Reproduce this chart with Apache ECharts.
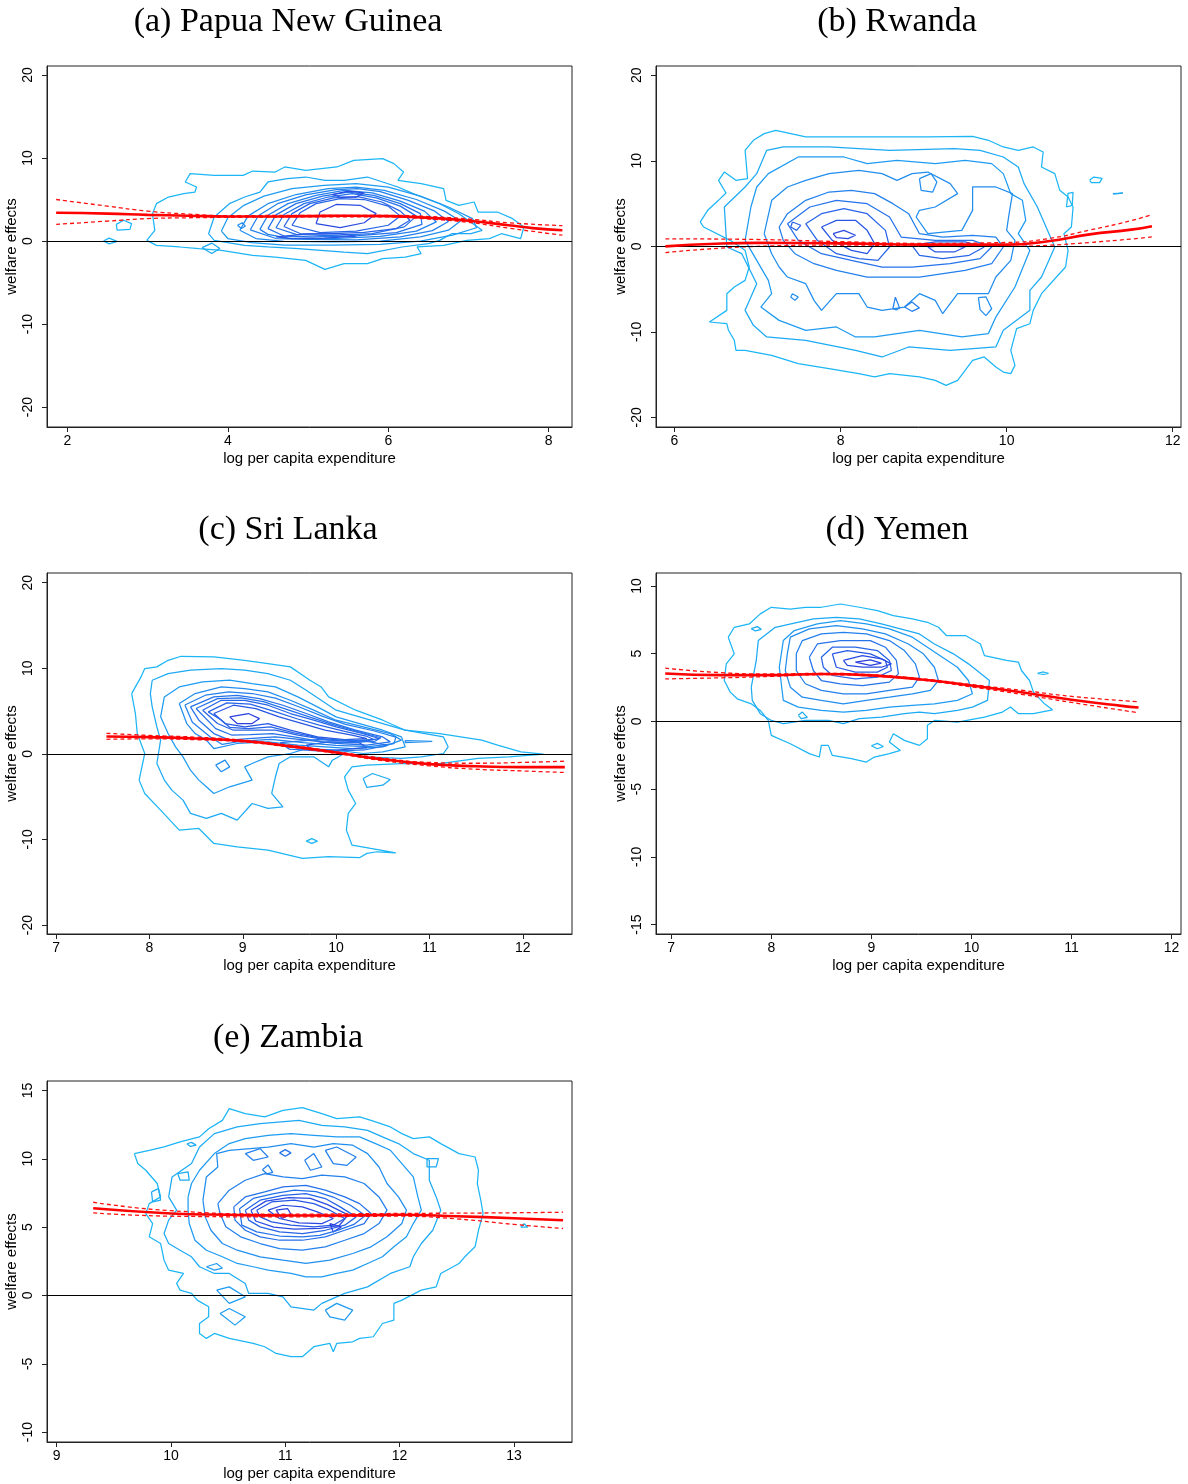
<!DOCTYPE html>
<html><head><meta charset="utf-8">
<script src="https://cdn.jsdelivr.net/npm/echarts@6/dist/echarts.min.js"></script>
<style>html,body{margin:0;padding:0;background:#fff}#c{width:1188px;height:1484px}</style>
</head><body><div id="c"></div>
<script>
// ---------------- DATA ----------------
const titles = ['(a) Papua New Guinea', '(b) Rwanda', '(c) Sri Lanka', '(d) Yemen', '(e) Zambia'];
const xName = 'log per capita expenditure';
const yName = 'welfare effects';

const xTicksA = [2, 4, 6, 8];
const yTicksA = [-20, -10, 0, 10, 20];
const xTicksB = [6, 8, 10, 12];
const yTicksB = [-20, -10, 0, 10, 20];
const xTicksC = [7, 8, 9, 10, 11, 12];
const yTicksC = [-20, -10, 0, 10, 20];
const xTicksD = [7, 8, 9, 10, 11, 12];
const yTicksD = [-15, -10, -5, 0, 5, 10];
const xTicksE = [9, 10, 11, 12, 13];
const yTicksE = [-10, -5, 0, 5, 10, 15];

// contour rings [x, y], with their density level (0 = outermost)
const contoursA = [
  [[2.99,0.08],[3.09,1.29],[3.06,3.29],[3.11,4.50],[3.26,5.30],[3.45,5.70],[3.59,5.90],[3.61,6.51],[3.47,7.11],[3.53,8.11],[3.83,7.91],[4.19,7.91],[4.31,8.43],[4.59,8.31],[4.71,8.92],[4.97,8.51],[5.36,8.92],[5.57,9.72],[5.93,9.92],[6.07,9.32],[6.19,8.31],[6.12,7.31],[6.41,6.91],[6.69,6.31],[6.72,4.90],[6.88,4.30],[7.07,4.70],[7.12,3.49],[7.36,3.49],[7.55,2.69],[7.69,1.69],[7.65,0.28],[7.41,0.88],[7.26,0.28],[6.98,0.08],[6.69,-0.52],[6.36,-0.72],[6.41,-1.53],[6.21,-1.93],[5.93,-2.13],[5.74,-2.73],[5.45,-2.73],[5.21,-3.41],[4.97,-2.33],[4.59,-1.93],[4.31,-1.73],[3.92,-1.12],[3.64,-0.92],[3.40,-0.72],[3.11,-0.52]],
  [[2.61,2.0],[2.70,2.5],[2.80,2.1],[2.78,1.4],[2.62,1.3]],
  [[2.45,0.0],[2.52,0.35],[2.62,-0.05],[2.52,-0.35]],
  [[3.68,-0.8],[3.80,-0.25],[3.90,-0.9],[3.80,-1.5]],
  [[3.76,0.88],[3.83,2.89],[4.02,4.50],[4.21,5.30],[4.40,5.90],[4.50,7.11],[4.74,7.51],[4.97,7.71],[5.21,7.31],[5.45,7.31],[5.74,7.71],[5.93,7.11],[6.12,6.51],[6.31,5.70],[6.64,4.50],[6.88,3.29],[7.17,1.29],[7.03,0.88],[6.79,0.88],[6.64,0.08],[6.50,-0.32],[6.17,-0.72],[5.74,-1.53],[5.45,-1.33],[5.16,-1.12],[4.88,-0.92],[4.50,-0.72],[4.21,-0.52],[3.83,0.08]],
  [[3.92,1.2],[4.0,2.8],[4.2,4.3],[4.45,5.4],[4.8,6.3],[5.2,6.7],[5.6,6.9],[6.0,6.5],[6.4,5.4],[6.75,4.1],[7.05,2.7],[7.1,1.6],[6.8,0.7],[6.4,0.0],[5.9,-0.4],[5.3,-0.5],[4.7,-0.5],[4.3,-0.2],[4.0,0.3]],
  [[4.15,1.3],[4.25,3.0],[4.5,4.5],[4.85,5.6],[5.25,6.3],[5.6,6.5],[5.95,6.1],[6.35,5.0],[6.7,3.6],[6.9,2.4],[6.75,1.3],[6.4,0.5],[5.9,0.0],[5.3,-0.1],[4.7,-0.05],[4.35,0.3]],
  [[4.4,1.4],[4.5,3.1],[4.75,4.5],[5.1,5.5],[5.45,6.1],[5.8,5.8],[6.15,4.8],[6.45,3.6],[6.6,2.3],[6.35,1.2],[5.9,0.55],[5.3,0.3],[4.75,0.35],[4.5,0.8]],
  [[4.6,1.6],[4.7,3.2],[4.95,4.5],[5.25,5.3],[5.55,5.7],[5.85,5.2],[6.15,4.2],[6.35,3.0],[6.2,1.7],[5.8,0.9],[5.25,0.65],[4.85,0.8]],
  [[4.8,1.9],[4.9,3.4],[5.1,4.5],[5.4,5.1],[5.7,5.0],[6.0,4.2],[6.15,3.0],[6.0,1.9],[5.6,1.2],[5.15,1.0]],
  [[5.1,2.1],[5.15,3.5],[5.35,4.4],[5.65,4.3],[5.85,3.3],[5.7,2.2],[5.4,1.6]],
  [[4.12,1.9],[4.18,2.2],[4.22,1.8],[4.17,1.5]],
  [[4.28,1.35],[4.38,3.05],[4.62,4.5],[4.97,5.55],[5.35,6.2],[5.62,6.3],[5.9,5.95],[6.25,4.9],[6.58,3.6],[6.75,2.35],[6.55,1.25],[6.15,0.5],[5.6,0.15],[5.0,0.2],[4.6,0.3]],
  [[4.5,1.5],[4.6,3.15],[4.85,4.5],[5.18,5.4],[5.5,5.9],[5.82,5.5],[6.15,4.5],[6.4,3.3],[6.42,2.0],[6.1,1.0],[5.55,0.6],[5.05,0.5],[4.7,0.6]],
  [[4.7,1.75],[4.8,3.3],[5.02,4.5],[5.32,5.2],[5.62,5.35],[5.92,4.7],[6.15,3.6],[6.27,2.5],[6.1,1.5],[5.7,1.05],[5.2,0.85],[4.9,0.9]],
  [[4.6,0.5],[5.0,0.85],[5.4,0.85],[5.6,0.6],[5.2,0.35],[4.8,0.3]],
  [[5.3,5.6],[5.5,6.0],[5.7,5.8],[5.6,5.3],[5.4,5.3]]
];
const levelsA = [0, 0, 0, 1, 1, 2, 3, 4, 5, 6, 8, 3, 4, 5, 6, 7, 8];

const contoursB = [
  [[6.31,2.85],[6.40,4.21],[6.53,5.38],[6.62,6.24],[6.53,7.72],[6.60,8.69],[6.74,7.72],[6.88,7.91],[6.85,11.23],[6.95,12.40],[7.08,13.18],[7.22,13.57],[7.40,13.18],[7.58,12.79],[7.95,12.79],[8.50,12.79],[9.05,12.79],[9.59,12.87],[9.78,12.40],[9.96,11.62],[10.14,11.23],[10.32,11.62],[10.44,11.03],[10.42,9.28],[10.58,8.50],[10.64,6.55],[10.74,5.77],[10.80,4.60],[10.78,2.26],[10.69,1.48],[10.74,-0.47],[10.71,-2.42],[10.60,-3.59],[10.42,-5.54],[10.32,-7.49],[10.28,-9.05],[10.12,-9.63],[10.05,-12.16],[10.10,-13.92],[10.05,-14.89],[9.96,-14.70],[9.87,-14.11],[9.73,-12.94],[9.59,-13.33],[9.50,-14.50],[9.41,-15.67],[9.27,-16.26],[9.14,-15.67],[8.95,-15.28],[8.59,-14.89],[8.41,-15.28],[8.22,-14.89],[7.86,-14.31],[7.49,-13.72],[7.17,-12.75],[6.85,-12.16],[6.74,-12.16],[6.72,-10.99],[6.65,-9.82],[6.63,-9.05],[6.42,-8.85],[6.63,-7.49],[6.63,-5.54],[6.72,-4.76],[6.85,-3.98],[6.90,-2.42],[6.85,-0.47],[6.67,0.70],[6.35,2.26]],
  [[6.63,-0.08],[6.60,4.60],[6.85,6.94],[6.99,8.50],[7.11,11.23],[7.31,11.62],[7.86,11.62],[8.59,11.23],[9.37,11.42],[9.68,11.23],[9.96,10.45],[10.14,9.28],[10.21,7.33],[10.37,4.60],[10.51,1.48],[10.58,-0.08],[10.42,-3.59],[10.28,-5.15],[10.28,-7.49],[9.96,-9.82],[9.87,-11.77],[9.32,-12.16],[8.82,-11.77],[8.50,-12.94],[8.18,-12.16],[7.58,-10.99],[7.11,-10.60],[6.95,-9.24],[6.85,-7.49],[6.99,-4.37],[6.81,-0.86]],
  [[6.85,0.70],[6.92,4.60],[6.99,6.94],[7.13,8.50],[7.49,10.45],[8.04,10.45],[8.32,9.67],[8.68,10.06],[9.14,9.67],[9.50,10.06],[9.82,9.67],[9.96,8.50],[10.05,6.16],[10.19,5.38],[10.23,3.04],[10.14,1.48],[10.28,-0.47],[10.10,-4.76],[9.87,-8.27],[9.78,-10.21],[9.46,-10.60],[8.95,-9.82],[8.41,-10.60],[8.18,-10.60],[7.95,-9.43],[7.58,-9.82],[7.26,-8.66],[7.04,-7.10],[7.17,-5.54],[7.13,-3.98],[6.99,-1.64]],
  [[7.08,1.48],[7.17,5.38],[7.36,6.94],[7.58,7.72],[7.86,8.50],[8.22,8.89],[8.50,8.50],[8.68,7.72],[8.86,8.50],[9.05,8.69],[9.32,7.33],[9.41,6.16],[9.14,4.60],[8.95,4.21],[8.91,3.43],[9.05,1.48],[9.46,1.87],[9.59,4.21],[9.59,6.94],[9.87,6.94],[10.07,6.16],[10.03,3.82],[10.00,1.87],[10.10,0.70],[10.05,-1.64],[9.87,-3.59],[9.78,-5.54],[9.41,-5.54],[9.23,-7.88],[9.14,-6.32],[8.95,-5.54],[8.77,-7.10],[8.50,-7.49],[8.32,-7.10],[8.22,-5.54],[7.95,-5.54],[7.77,-7.49],[7.68,-6.32],[7.58,-4.37],[7.36,-3.59],[7.26,-2.42],[7.17,-0.86]],
  [[7.26,2.26],[7.36,3.82],[7.58,5.38],[7.86,6.35],[8.13,6.55],[8.41,6.16],[8.63,4.99],[8.82,3.82],[8.95,1.48],[9.23,1.09],[9.59,1.29],[9.87,1.09],[9.96,-0.08],[9.82,-2.03],[9.50,-2.81],[8.95,-3.59],[8.68,-3.59],[8.32,-3.59],[7.95,-2.81],[7.68,-2.03],[7.45,-0.86],[7.31,0.70]],
  [[7.36,2.65],[7.63,4.60],[7.95,5.38],[8.32,4.99],[8.59,3.43],[8.73,1.09],[9.14,0.70],[9.59,0.70],[9.82,-0.08],[9.68,-1.44],[9.32,-2.03],[8.86,-2.42],[8.50,-2.42],[8.13,-1.64],[7.77,-0.86],[7.49,0.70]],
  [[7.58,2.65],[7.77,3.82],[8.04,4.41],[8.32,3.82],[8.54,1.87],[8.59,-0.08],[8.45,-1.64],[8.22,-1.44],[7.95,-0.86],[7.72,0.70]],
  [[8.86,0.12],[9.14,0.51],[9.50,0.51],[9.73,-0.08],[9.55,-1.05],[9.23,-1.44],[8.95,-1.05]],
  [[7.77,2.26],[7.95,3.04],[8.18,3.04],[8.32,1.87],[8.41,0.31],[8.32,-0.86],[8.13,-0.47],[7.90,0.70]],
  [[9.05,-0.08],[9.27,0.12],[9.50,-0.08],[9.37,-0.66],[9.14,-0.66]],
  [[7.91,1.48],[8.04,1.87],[8.18,1.29],[8.09,0.90],[7.95,1.01]],
  [[7.42,2.85],[7.52,2.46],[7.47,1.87],[7.40,2.26]],
  [[8.95,7.91],[9.09,8.50],[9.16,7.52],[9.11,6.35],[8.97,6.55]],
  [[7.42,-5.54],[7.49,-5.93],[7.45,-6.32],[7.40,-5.93]],
  [[8.63,-7.3],[8.66,-5.95],[8.71,-7.2],[8.67,-7.45]],
  [[8.77,-7.1],[8.86,-6.5],[8.95,-7.2],[8.86,-7.6]],
  [[9.66,-6.0],[9.75,-5.9],[9.82,-7.3],[9.75,-8.1],[9.68,-7.4]],
  [[11.0,7.75],[11.05,8.1],[11.15,7.95],[11.12,7.45],[11.02,7.45]],
  [[11.28,6.16],[11.40,6.22],[11.40,6.10],[11.28,6.10]],
  [[10.72,4.6],[10.74,6.2],[10.80,6.3],[10.79,4.8]]
];
const levelsB = [0, 1, 2, 3, 4, 5, 6, 6, 7, 7, 8, 6, 3, 3, 4, 4, 3, 0, 1, 0];

const contoursC = [
  [[7.81,7.04],[7.91,8.99],[7.95,9.96],[8.08,10.16],[8.20,10.93],[8.34,11.40],[8.69,11.32],[9.02,10.93],[9.27,10.54],[9.51,10.16],[9.72,8.60],[9.84,7.82],[9.92,6.65],[10.21,5.10],[10.50,3.93],[10.74,2.76],[11.11,2.37],[11.56,1.60],[11.73,1.01],[11.98,0.23],[12.22,-0.04],[11.85,-0.35],[11.52,-0.54],[11.11,-1.13],[10.70,-1.13],[10.33,-1.32],[10.17,-1.52],[10.09,-2.68],[10.13,-4.24],[10.21,-5.80],[10.13,-6.96],[10.11,-8.91],[10.17,-10.66],[10.37,-11.05],[10.64,-11.56],[10.44,-11.44],[10.33,-11.63],[10.25,-12.14],[9.92,-12.02],[9.64,-12.22],[9.27,-11.25],[8.94,-10.86],[8.69,-10.47],[8.53,-8.72],[8.32,-8.91],[8.12,-6.58],[7.95,-4.63],[7.89,-3.07],[7.95,0.04],[7.87,2.37],[7.85,4.71]],
  [[8.03,8.60],[8.20,9.38],[8.44,9.77],[8.77,9.96],[9.02,9.77],[9.27,9.38],[9.51,8.60],[9.68,7.43],[9.84,6.26],[10.00,5.10],[10.25,4.32],[10.50,3.54],[10.74,2.76],[11.15,1.98],[11.20,0.82],[11.15,0.04],[10.91,-0.35],[10.70,-0.54],[10.29,-0.35],[10.09,0.04],[9.96,-0.74],[9.92,-1.52],[9.76,-0.35],[9.51,-0.35],[9.39,-1.13],[9.35,-2.68],[9.31,-4.63],[9.43,-6.19],[9.27,-6.38],[9.10,-5.80],[8.94,-7.74],[8.77,-6.96],[8.61,-7.55],[8.44,-6.96],[8.36,-5.41],[8.24,-4.24],[8.16,-3.07],[8.08,-1.13],[8.12,1.60],[8.08,3.15],[8.03,5.49],[8.01,7.04]],
  [[8.16,6.65],[8.32,7.82],[8.57,8.40],[8.86,8.60],[9.10,8.21],[9.35,7.82],[9.59,6.65],[9.80,5.49],[10.00,4.32],[10.25,3.54],[10.50,2.76],[10.70,1.98],[10.74,0.82],[10.50,0.23],[10.29,0.04],[10.00,0.43],[9.68,0.62],[9.51,0.04],[9.27,-0.35],[9.10,-1.13],[9.02,-1.52],[9.10,-3.07],[8.86,-3.85],[8.69,-4.63],[8.61,-3.85],[8.53,-3.07],[8.44,-1.91],[8.36,-0.35],[8.28,0.82],[8.20,2.37],[8.12,4.32]],
  [[8.32,5.88],[8.49,7.04],[8.77,7.82],[9.02,7.63],[9.27,7.24],[9.51,6.26],[9.76,5.10],[10.00,3.93],[10.29,3.15],[10.58,2.37],[10.70,1.60],[10.50,0.82],[10.17,0.62],[9.88,0.82],[9.59,1.01],[9.27,1.40],[8.94,1.21],[8.69,0.62],[8.61,1.60],[8.49,2.37],[8.40,3.54]],
  [[8.44,5.49],[8.69,6.65],[8.94,6.84],[9.18,6.46],[9.43,5.68],[9.68,4.71],[9.92,3.74],[10.21,2.76],[10.50,1.98],[10.58,1.40],[10.33,1.01],[10.00,1.21],[9.68,1.60],[9.35,1.98],[9.06,1.79],[8.86,1.60],[8.69,2.37],[8.53,3.93]],
  [[8.57,5.10],[8.77,6.26],[9.02,6.26],[9.27,5.68],[9.51,4.71],[9.76,3.93],[10.00,3.15],[10.29,2.37],[10.46,1.79],[10.25,1.40],[9.92,1.60],[9.59,2.18],[9.35,2.76],[9.10,2.76],[8.90,2.76],[8.73,3.54]],
  [[8.69,4.71],[8.90,5.68],[9.14,5.29],[9.39,4.32],[9.64,3.54],[9.88,2.76],[10.17,2.18],[10.33,1.79],[10.09,1.67],[9.80,1.98],[9.51,2.76],[9.27,3.54],[9.02,3.15],[8.81,3.54]],
  [[8.86,4.32],[9.06,4.71],[9.18,4.12],[9.10,3.54],[8.94,3.54]],
  [[9.68,1.01],[9.92,1.40],[10.25,1.28],[10.33,0.74],[10.00,0.43],[9.76,0.43]],
  [[10.74,1.55],[11.03,1.45],[11.03,1.35],[10.74,1.30]],
  [[8.71,-1.32],[8.81,-0.74],[8.86,-1.52],[8.77,-2.10]],
  [[10.29,-2.88],[10.39,-2.30],[10.58,-3.00],[10.50,-3.66],[10.33,-3.93]],
  [[9.68,-10.2],[9.74,-9.9],[9.80,-10.2],[9.74,-10.47]],
  [[8.38,5.7],[8.6,6.85],[8.85,7.25],[9.1,7.05],[9.35,6.5],[9.6,5.5],[9.85,4.4],[10.1,3.45],[10.4,2.7],[10.64,1.95],[10.62,1.2],[10.35,0.85],[10.0,1.0],[9.65,1.3],[9.3,1.7],[9.0,1.5],[8.78,1.1],[8.65,2.0],[8.46,3.7]],
  [[8.5,5.3],[8.73,6.45],[8.98,6.55],[9.22,6.1],[9.47,5.2],[9.72,4.3],[9.96,3.45],[10.25,2.55],[10.48,1.88],[10.42,1.5],[10.15,1.3],[9.85,1.4],[9.6,1.9],[9.32,2.35],[9.08,2.25],[8.88,2.2],[8.71,2.95]],
  [[8.63,4.9],[8.83,5.95],[9.08,5.8],[9.33,5.0],[9.58,4.1],[9.82,3.35],[10.08,2.65],[10.32,2.08],[10.4,1.7],[10.17,1.52],[9.86,1.78],[9.55,2.45],[9.3,3.15],[9.06,2.95],[8.86,3.1],[8.77,3.95]],
  [[9.4,1.3],[9.8,1.65],[10.3,1.55],[10.55,1.0],[10.3,0.45],[9.9,0.3],[9.5,0.55]]
];
const levelsC = [0, 1, 2, 3, 5, 6, 7, 9, 7, 3, 3, 1, 0, 4, 5, 6, 5];

const contoursD = [
  [[7.57,6.22],[7.63,6.95],[7.78,7.20],[7.89,7.94],[8.00,8.43],[8.19,8.30],[8.34,8.43],[8.50,8.43],[8.69,8.67],[8.88,8.43],[9.06,8.18],[9.22,7.81],[9.41,7.57],[9.56,7.32],[9.67,6.95],[9.75,6.34],[9.94,6.34],[10.09,5.72],[10.13,4.86],[10.35,4.50],[10.47,4.37],[10.50,3.76],[10.58,3.02],[10.62,2.16],[10.73,1.30],[10.81,0.86],[10.62,0.57],[10.47,0.57],[10.39,1.06],[10.31,0.69],[10.13,0.32],[9.86,-0.05],[9.63,0.07],[9.56,-0.29],[9.56,-1.28],[9.48,-1.77],[9.33,-1.40],[9.22,-0.91],[9.18,-1.52],[9.29,-2.14],[9.18,-2.38],[9.03,-2.63],[8.95,-3.00],[8.80,-2.75],[8.61,-2.51],[8.57,-1.77],[8.50,-1.77],[8.48,-2.63],[8.38,-2.38],[8.19,-1.65],[8.00,-1.03],[7.97,0.07],[7.89,0.81],[7.80,1.30],[7.66,1.67],[7.59,2.16],[7.53,3.02],[7.55,4.25],[7.63,4.99]],
  [[7.80,2.53],[7.85,4.50],[7.87,5.97],[8.04,6.95],[8.42,7.57],[8.65,7.69],[8.88,7.57],[9.10,7.20],[9.29,6.83],[9.48,6.46],[9.63,5.72],[9.82,4.99],[9.97,4.25],[10.18,3.02],[10.16,1.55],[10.01,1.06],[9.86,0.81],[9.63,0.57],[9.48,0.69],[9.33,0.57],[9.10,0.32],[8.88,0.20],[8.72,-0.17],[8.57,0.07],[8.34,0.07],[8.12,-0.17],[8.00,0.07],[7.89,0.57],[7.81,1.55]],
  [[8.08,4.00],[8.12,5.97],[8.23,6.71],[8.46,7.20],[8.69,7.44],[8.95,7.20],[9.18,6.83],[9.41,6.22],[9.56,5.48],[9.71,4.74],[9.86,4.00],[9.97,3.02],[10.01,2.04],[9.86,1.55],[9.63,1.30],[9.41,1.18],[9.18,1.06],[8.95,0.81],[8.72,0.69],[8.50,0.81],[8.27,1.06],[8.12,1.55],[8.10,2.78]],
  [[8.16,4.99],[8.19,6.22],[8.38,6.83],[8.65,7.08],[8.91,6.83],[9.14,6.46],[9.37,5.72],[9.52,4.99],[9.63,4.00],[9.67,3.02],[9.59,2.29],[9.41,2.04],[9.18,1.79],[8.95,1.55],[8.72,1.30],[8.50,1.55],[8.31,1.79],[8.19,2.53],[8.14,3.76]],
  [[8.25,4.99],[8.31,5.97],[8.50,6.46],[8.72,6.58],[8.95,6.46],[9.18,5.97],[9.33,5.23],[9.44,4.25],[9.48,3.27],[9.41,2.53],[9.18,2.29],[8.95,2.04],[8.72,2.04],[8.50,2.29],[8.34,2.78],[8.25,3.76]],
  [[8.38,4.74],[8.46,5.72],[8.69,5.97],[8.99,5.97],[9.14,5.48],[9.25,4.50],[9.27,3.51],[9.18,2.90],[8.91,2.65],[8.69,2.78],[8.50,3.02],[8.42,3.76]],
  [[8.50,4.74],[8.61,5.48],[8.84,5.48],[9.06,5.23],[9.18,4.50],[9.20,3.76],[9.06,3.27],[8.84,3.14],[8.61,3.39],[8.52,4.00]],
  [[8.61,4.99],[8.76,5.23],[8.99,4.99],[9.14,4.50],[9.16,4.00],[9.06,3.64],[8.84,3.64],[8.65,4.00]],
  [[8.72,4.50],[8.91,4.86],[9.10,4.62],[9.20,4.25],[9.10,4.00],[8.91,4.00],[8.76,4.13]],
  [[8.84,4.37],[8.99,4.54],[9.10,4.30],[8.99,4.13]],
  [[7.80,6.85],[7.86,7.0],[7.90,6.8],[7.84,6.68]],
  [[8.27,0.45],[8.31,0.69],[8.36,0.30],[8.30,0.20]],
  [[9.00,-1.80],[9.06,-1.62],[9.12,-1.85],[9.06,-2.02]],
  [[10.66,3.55],[10.72,3.65],[10.77,3.55],[10.72,3.48]]
];
const levelsD = [0, 1, 2, 3, 4, 5, 6, 7, 8, 9, 1, 1, 0, 0];

const contoursE = [
  [[9.68,10.38],[9.81,10.62],[9.94,10.87],[10.08,11.23],[10.25,11.60],[10.33,12.20],[10.45,12.81],[10.51,13.67],[10.65,13.30],[10.82,13.06],[10.98,13.54],[11.15,13.74],[11.32,13.30],[11.45,12.94],[11.65,13.06],[11.75,12.81],[11.92,12.33],[12.02,11.84],[12.12,11.47],[12.26,11.60],[12.36,11.11],[12.52,10.38],[12.66,10.13],[12.69,9.16],[12.68,8.19],[12.71,6.97],[12.73,5.99],[12.69,4.77],[12.66,3.56],[12.57,2.83],[12.52,2.34],[12.36,1.61],[12.32,0.63],[12.19,0.39],[12.02,-0.34],[11.95,-0.58],[11.95,-1.80],[11.85,-2.05],[11.77,-3.02],[11.65,-3.14],[11.59,-3.39],[11.45,-3.51],[11.42,-4.12],[11.39,-3.51],[11.25,-3.75],[11.15,-4.48],[11.05,-4.48],[10.92,-4.24],[10.82,-3.75],[10.72,-3.51],[10.51,-3.14],[10.38,-2.78],[10.31,-3.14],[10.25,-2.78],[10.25,-2.05],[10.33,-1.56],[10.33,-0.83],[10.23,-0.34],[10.18,0.15],[10.08,0.39],[10.05,0.88],[10.11,1.61],[9.98,1.85],[9.94,2.58],[9.91,3.80],[9.81,4.29],[9.84,5.26],[9.78,5.99],[9.81,6.72],[9.91,7.21],[9.88,8.19],[9.78,9.16],[9.71,9.65]],
  [[9.98,7.21],[10.01,8.67],[10.18,9.65],[10.25,10.86],[10.38,11.84],[10.58,12.33],[10.78,12.57],[11.12,12.81],[11.32,12.45],[11.52,12.33],[11.72,12.08],[11.85,11.60],[11.99,11.11],[12.12,10.38],[12.26,9.89],[12.26,8.43],[12.32,7.21],[12.36,6.24],[12.29,4.77],[12.19,3.80],[12.12,2.83],[12.09,2.10],[11.92,1.61],[11.72,0.63],[11.52,0.15],[11.32,-0.58],[11.25,-1.07],[11.05,-0.83],[10.98,-0.10],[10.85,0.15],[10.68,0.15],[10.65,0.88],[10.51,1.61],[10.38,1.61],[10.25,2.10],[10.18,2.83],[10.08,3.31],[9.98,3.80],[9.94,4.53],[9.98,5.51],[10.05,6.24]],
  [[10.15,7.21],[10.18,8.19],[10.25,9.16],[10.38,10.38],[10.51,11.11],[10.65,11.47],[10.85,11.72],[11.05,11.84],[11.25,11.72],[11.45,11.60],[11.65,11.60],[11.79,11.11],[11.92,10.62],[12.02,9.65],[12.12,8.67],[12.16,7.21],[12.19,6.24],[12.12,5.26],[12.06,4.29],[11.95,3.56],[11.85,2.83],[11.72,2.34],[11.59,1.85],[11.45,1.61],[11.32,1.36],[11.18,1.36],[11.05,1.61],[10.85,1.85],[10.72,2.10],[10.58,2.34],[10.45,2.83],[10.31,3.31],[10.21,4.04],[10.16,5.26],[10.15,6.24]],
  [[10.28,6.97],[10.31,8.67],[10.41,9.40],[10.40,10.38],[10.51,10.62],[10.85,10.86],[11.05,11.11],[11.25,10.86],[11.42,11.11],[11.59,10.99],[11.72,10.38],[11.82,9.40],[11.89,8.19],[11.99,7.21],[12.06,6.24],[12.02,5.26],[11.89,4.29],[11.75,3.56],[11.59,3.07],[11.39,2.58],[11.18,2.34],[10.98,2.58],[10.78,2.83],[10.58,3.31],[10.45,3.80],[10.35,4.77],[10.30,5.75]],
  [[10.41,6.72],[10.51,7.70],[10.65,8.43],[10.82,8.92],[10.98,8.67],[11.15,8.55],[11.32,8.80],[11.52,8.67],[11.69,8.19],[11.82,7.21],[11.89,6.24],[11.82,5.26],[11.69,4.53],[11.52,4.04],[11.35,3.56],[11.15,3.31],[10.95,3.43],[10.78,3.80],[10.61,4.29],[10.48,5.02],[10.43,5.99]],
  [[10.55,6.48],[10.65,7.21],[10.82,7.58],[10.98,7.94],[11.18,8.06],[11.35,7.70],[11.52,7.21],[11.65,6.72],[11.75,5.99],[11.69,5.26],[11.52,4.77],[11.35,4.29],[11.15,4.04],[10.95,4.04],[10.78,4.29],[10.65,4.77],[10.56,5.51]],
  [[10.65,6.24],[10.78,6.97],[10.98,7.33],[11.18,7.45],[11.35,7.09],[11.48,6.48],[11.62,5.75],[11.52,5.14],[11.35,4.77],[11.15,4.53],[10.95,4.65],[10.78,5.02],[10.68,5.51]],
  [[10.75,6.24],[10.88,6.84],[11.08,6.97],[11.25,6.72],[11.39,6.24],[11.52,5.63],[11.42,5.14],[11.25,5.02],[11.05,5.14],[10.88,5.38],[10.78,5.75]],
  [[10.85,6.24],[10.98,6.60],[11.15,6.48],[11.28,6.11],[11.42,5.63],[11.32,5.26],[11.12,5.31],[10.95,5.63]],
  [[10.92,6.24],[11.02,6.36],[11.05,5.94],[10.97,5.63]],
  [[11.39,5.26],[11.49,5.02],[11.42,4.65]],
  [[10.65,10.38],[10.78,10.74],[10.85,10.13],[10.72,9.89]],
  [[10.95,10.43],[11.00,10.67],[11.05,10.43],[11.00,10.18]],
  [[11.17,9.89],[11.25,10.38],[11.32,9.40],[11.22,9.16]],
  [[11.35,10.62],[11.45,10.86],[11.62,10.13],[11.54,9.52],[11.42,9.65]],
  [[10.80,9.2],[10.85,9.55],[10.89,9.0],[10.84,8.9]],
  [[12.24,10.01],[12.34,10.01],[12.32,9.40],[12.24,9.40]],
  [[10.06,8.92],[10.15,9.04],[10.16,8.43],[10.08,8.43]],
  [[9.83,7.58],[9.89,7.82],[9.91,6.97],[9.84,6.85]],
  [[10.14,11.1],[10.18,11.2],[10.22,11.0],[10.17,10.9]],
  [[10.31,2.1],[10.40,2.34],[10.45,2.0],[10.38,1.85]],
  [[10.43,-1.32],[10.51,-0.95],[10.65,-1.56],[10.56,-2.17]],
  [[10.40,0.39],[10.51,0.63],[10.65,-0.10],[10.51,-0.58]],
  [[11.35,-1.07],[11.45,-0.58],[11.59,-1.07],[11.52,-1.80],[11.39,-1.56]],
  [[13.06,5.0],[13.09,5.25],[13.12,5.0]],
  [[10.6,6.35],[10.72,7.1],[10.9,7.45],[11.08,7.7],[11.27,7.6],[11.42,7.2],[11.57,6.6],[11.7,5.85],[11.6,5.2],[11.45,4.75],[11.3,4.4],[11.15,4.28],[10.95,4.35],[10.75,4.65],[10.62,5.15]],
  [[10.7,6.24],[10.83,6.9],[11.03,7.15],[11.22,7.1],[11.37,6.65],[11.55,5.9],[11.47,5.1],[11.3,4.9],[11.08,4.85],[10.9,5.0],[10.74,5.45]]
];
const levelsE = [0, 1, 2, 3, 4, 5, 6, 7, 8, 9, 9, 4, 5, 4, 4, 4, 1, 1, 1, 1, 2, 2, 2, 2, 0, 5, 8];

// smoothed fit (solid) and confidence band (dashed)
const fitA = [[1.86,3.4],[2.5,3.3],[3,3.15],[3.5,3.05],[4,2.95],[4.5,2.95],[5,3.0],[5.5,3.05],[6,3.0],[6.5,2.8],[7,2.45],[7.5,1.9],[7.8,1.55],[8.17,1.3]];
const upA = [[1.86,5.0],[2.5,4.2],[3,3.6],[3.5,3.25],[4,3.05],[5,3.1],[6,3.1],[6.5,2.95],[7,2.65],[7.5,2.2],[8.17,1.85]];
const loA = [[1.86,2.0],[2.5,2.4],[3,2.7],[3.5,2.8],[4,2.85],[5,2.9],[6,2.9],[6.5,2.65],[7,2.25],[7.5,1.55],[8.17,0.7]];
const fitB = [[5.89,0.0],[6.5,0.3],[7,0.4],[8,0.35],[9,0.2],[10,0.2],[10.5,0.6],[11,1.4],[11.5,1.95],[11.75,2.35]];
const upB = [[5.89,0.88],[7,0.8],[8,0.55],[9,0.35],[10,0.45],[10.5,0.9],[11,1.9],[11.5,3.0],[11.75,3.7]];
const loB = [[5.89,-0.74],[7,0.0],[8,0.15],[9,0.05],[10,0.0],[10.5,0.12],[11,0.45],[11.5,0.85],[11.75,1.1]];
const fitC = [[7.54,2.02],[8,1.95],[8.5,1.8],[9,1.5],[9.5,0.9],[10,0.15],[10.5,-0.65],[11,-1.2],[11.5,-1.45],[12,-1.55],[12.45,-1.55]];
const upC = [[7.54,2.4],[8,2.15],[8.5,1.95],[9,1.6],[9.5,1.0],[10,0.25],[10.5,-0.5],[11,-1.0],[11.5,-1.1],[12,-1.0],[12.45,-0.86]];
const loC = [[7.54,1.7],[8,1.75],[8.5,1.65],[9,1.4],[9.5,0.8],[10,0.05],[10.5,-0.8],[11,-1.4],[11.5,-1.8],[12,-2.0],[12.45,-2.18]];
const fitD = [[6.94,3.54],[7.5,3.42],[8,3.42],[8.5,3.5],[9,3.4],[9.5,3.1],[10,2.65],[10.5,2.15],[11,1.6],[11.5,1.15],[11.67,1.03]];
const upD = [[6.94,3.93],[7.5,3.6],[8,3.5],[8.5,3.55],[9,3.45],[9.5,3.15],[10,2.72],[10.5,2.3],[11,1.85],[11.67,1.45]];
const loD = [[6.94,3.14],[7.5,3.22],[8,3.32],[8.5,3.45],[9,3.35],[9.5,3.05],[10,2.55],[10.5,2.0],[11,1.4],[11.67,0.64]];
const fitE = [[9.32,6.38],[10,6.0],[10.5,5.9],[11,5.85],[11.5,5.85],[12,5.9],[12.5,5.8],[13,5.65],[13.43,5.5]];
const upE = [[9.32,6.82],[10,6.2],[11,5.95],[12,6.0],[13,6.05],[13.43,6.09]];
const loE = [[9.32,6.04],[10,5.8],[11,5.75],[12,5.8],[12.5,5.6],[13,5.2],[13.43,4.9]];

// ---------------- LAYOUT / STYLE ----------------
const palette = ['#1CB6F6','#1DAAF4','#1F9CF2','#218EEF','#2380EC','#2572EA','#2764E7','#2857E4','#2A4AE1','#2C3EDE'];
const sans = '"Liberation Sans", Arial, Helvetica, sans-serif';
const serif = '"Liberation Serif", "Times New Roman", serif';

const panels = [
  {grid:{left:47,top:66,width:525,height:361}, xr:[1.746,8.29], yr:[-22.4,21.08], xt:xTicksA, yt:yTicksA, rings:contoursA, lv:levelsA, fit:fitA, up:upA, lo:loA, tx:288, ty:22},
  {grid:{left:656,top:66,width:525,height:361}, xr:[5.777,12.10], yr:[-21.13,21.09], xt:xTicksB, yt:yTicksB, rings:contoursB, lv:levelsB, fit:fitB, up:upB, lo:loB, tx:897, ty:22},
  {grid:{left:47,top:573,width:525,height:361}, xr:[6.903,12.527], yr:[-21.05,21.13], xt:xTicksC, yt:yTicksC, rings:contoursC, lv:levelsC, fit:fitC, up:upC, lo:loC, tx:288, ty:530},
  {grid:{left:656,top:573,width:525,height:361}, xr:[6.848,12.094], yr:[-15.70,10.96], xt:xTicksD, yt:yTicksD, rings:contoursD, lv:levelsD, fit:fitD, up:upD, lo:loD, tx:897, ty:530},
  {grid:{left:47,top:1081,width:525,height:361}, xr:[8.916,13.508], yr:[-10.72,15.69], xt:xTicksE, yt:yTicksE, rings:contoursE, lv:levelsE, fit:fitE, up:upE, lo:loE, tx:288, ty:1038}
];

const grids = [], xAxes = [], yAxes = [], series = [], graphics = [];
panels.forEach((p, i) => {
  grids.push(Object.assign({show:true, borderColor:'#222', borderWidth:1, backgroundColor:'#fff'}, p.grid));
  xAxes.push({
    gridIndex:i, type:'value', min:p.xr[0], max:p.xr[1],
    splitLine:{show:false},
    axisLine:{show:true, onZero:false, lineStyle:{color:'#222', width:1}},
    axisTick:{show:true, length:5, customValues:p.xt, lineStyle:{color:'#222'}},
    axisLabel:{customValues:p.xt, fontSize:14, color:'#000', margin:7, fontFamily:sans},
    name:xName, nameLocation:'middle', nameGap:24,
    nameTextStyle:{fontSize:15, color:'#000', fontFamily:sans}
  });
  yAxes.push({
    gridIndex:i, type:'value', min:p.yr[0], max:p.yr[1],
    splitLine:{show:false},
    axisLine:{show:true, onZero:false, lineStyle:{color:'#222', width:1}},
    axisTick:{show:true, length:5, customValues:p.yt, lineStyle:{color:'#222'}},
    axisLabel:{customValues:p.yt, fontSize:14, color:'#000', margin:12, rotate:90, fontFamily:sans},
    name:yName, nameLocation:'middle', nameGap:28,
    nameTextStyle:{fontSize:15, color:'#000', fontFamily:sans}
  });
  p.rings.forEach((ring, j) => {
    series.push({
      type:'line', xAxisIndex:i, yAxisIndex:i, data:ring.concat([ring[0]]),
      symbol:'none', smooth:false, silent:true, z:2, animation:false,
      lineStyle:{color:palette[p.lv[j]], width:1.25}
    });
  });
  series.push({
    type:'line', xAxisIndex:i, yAxisIndex:i, data:[], symbol:'none', silent:true, z:3,
    markLine:{symbol:['none','none'], silent:true, animation:false, label:{show:false},
      lineStyle:{color:'#000', width:1, type:'solid'}, data:[{yAxis:0}]}
  });
  [p.up, p.lo].forEach(band => series.push({
    type:'line', xAxisIndex:i, yAxisIndex:i, data:band, symbol:'none', smooth:true, silent:true, z:4,
    lineStyle:{color:'#FF1010', width:1.3, type:[4,3]}
  }));
  series.push({
    type:'line', xAxisIndex:i, yAxisIndex:i, data:p.fit, symbol:'none', smooth:true, silent:true, z:5,
    lineStyle:{color:'#FF0000', width:2.6}
  });
  graphics.push({type:'text', x:p.tx, y:p.ty, silent:true,
    style:{text:titles[i], fontSize:34, fontFamily:serif, fill:'#000', align:'center', verticalAlign:'middle', textAlign:'center', textVerticalAlign:'middle'}});
});

const chart = echarts.init(document.getElementById('c'), null, {renderer:'canvas'});
chart.setOption({
  backgroundColor:'#fff', animation:false,
  grid:grids, xAxis:xAxes, yAxis:yAxes, series:series, graphic:graphics
});
</script></body></html>
